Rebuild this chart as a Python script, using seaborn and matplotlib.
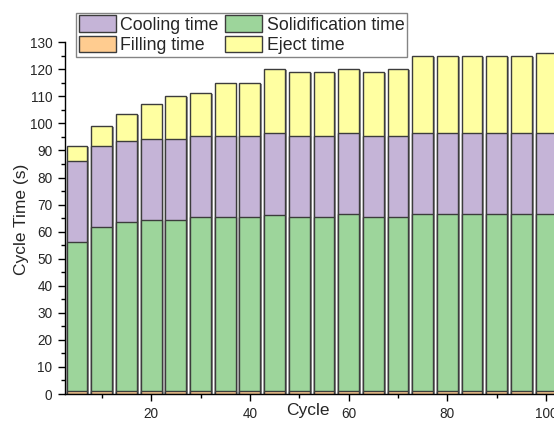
import pandas as pd
import numpy as np
import seaborn as sns
import matplotlib.pyplot as plt
import matplotlib.patheffects as pe
from matplotlib.patches import Patch

cycles = [5, 10, 15, 20, 25, 30, 35, 40, 45, 50, 55, 60, 65, 70, 75, 80, 85, 90, 95, 100]
filling_time = [1.0, 1.0, 1.0, 1.0, 1.0, 1.0, 1.0, 1.0, 1.0, 1.0,
                1.0, 1.0, 1.0, 1.0, 1.0, 1.0, 1.0, 1.0, 1.0, 1.0]
solidification_time = [55.0, 60.7, 62.4, 63.3, 63.3, 64.4, 64.4, 64.4, 65.3, 64.4,
                       64.4, 65.4, 64.4, 64.4, 65.4, 65.4, 65.4, 65.4, 65.4, 65.4]
cooling_time = [30.0, 30.0, 30.0, 30.0, 30.0, 30.0, 30.0, 30.0, 30.0, 30.0,
                30.0, 30.0, 30.0, 30.0, 30.0, 30.0, 30.0, 30.0, 30.0, 30.0]
eject_time = [5.7, 7.4, 10.1, 12.7, 15.9, 15.7, 19.4, 19.4, 23.7, 23.7,
              23.7, 23.7, 23.7, 24.7, 28.6, 28.6, 28.6, 28.6, 28.6, 29.5]

COLORS = {
    "Cooling time": "#c5b4d7",
    "Filling time": "#ffcc90",
    "Solidification time": "#9dd59b",
    "Eject time": "#ffffa1",
}
EDGE = "#3c3c3c"

df = pd.DataFrame({
    "cycle": cycles,
    "filling": filling_time,
    "solidification": solidification_time,
    "cooling": cooling_time,
    "eject": eject_time,
})
# cumulative tops for layered (stacked) bars
df["top_filling"] = df["filling"]
df["top_solid"] = df["top_filling"] + df["solidification"]
df["top_cooling"] = df["top_solid"] + df["cooling"]
df["top_eject"] = df["top_cooling"] + df["eject"]

sns.set_style("ticks")
plt.rcParams["font.family"] = ["Liberation Sans", "DejaVu Sans"]

fig = plt.figure(figsize=(5.54, 4.23), dpi=100)
ax = fig.add_axes([64.8 / 554, 29 / 423, 505.8 / 554, 351.8 / 423])

layers = [
    ("top_eject", "Eject time"),
    ("top_cooling", "Cooling time"),
    ("top_solid", "Solidification time"),
    ("top_filling", "Filling time"),
]
for col, name in layers:
    sns.barplot(
        data=df, x="cycle", y=col, native_scale=True, width=0.84,
        color=COLORS[name], saturation=1, edgecolor=EDGE, linewidth=1.0,
        errorbar=None, ax=ax,
    )

shadow = [pe.SimplePatchShadow(offset=(1.4, -0.6), shadow_rgbFace=(0.55, 0.55, 0.55), alpha=0.9),
          pe.Normal()]
for p in ax.patches:
    p.set_path_effects(shadow)

ax.set_xlim(2.5, 105)
ax.set_ylim(0, 130)
ax.set_xticks([20, 40, 60, 80, 100])
ax.set_xticks([10, 30, 50, 70, 90], minor=True)
ax.set_yticks(np.arange(0, 131, 10))
ax.set_yticks(np.arange(5, 130, 10), minor=True)
ax.tick_params(axis="both", which="major", direction="out", length=5, width=1,
               labelsize=9.8, pad=4, color="black")
ax.tick_params(axis="both", which="minor", direction="out", length=3, width=1, color="black")

for s in ["top", "right"]:
    ax.spines[s].set_visible(False)
for s in ["left", "bottom"]:
    ax.spines[s].set_color("black")
    ax.spines[s].set_linewidth(1)

ax.set_xlabel("Cycle", fontsize=12.5)
ax.xaxis.set_label_coords(0.480, -0.026)
ax.set_ylabel("Cycle Time (s)", fontsize=12.5)
ax.yaxis.set_label_coords(-0.07, 0.495)

handles = [Patch(facecolor=COLORS[n], edgecolor=EDGE, linewidth=1.0, label=n)
           for n in ["Cooling time", "Filling time", "Solidification time", "Eject time"]]
leg = fig.legend(
    handles=handles, ncol=2, loc="upper left",
    bbox_to_anchor=(76 / 554, 1 - 12.7 / 423), bbox_transform=fig.transFigure,
    fontsize=12.8, frameon=True, fancybox=False, borderaxespad=0,
    handlelength=2.1, handleheight=1.05, handletextpad=0.25,
    labelspacing=0.12, columnspacing=0.35, borderpad=0.15,
)
leg.get_frame().set_edgecolor("#666666")
leg.get_frame().set_linewidth(1.0)

fig.savefig("out.png", dpi=100)
